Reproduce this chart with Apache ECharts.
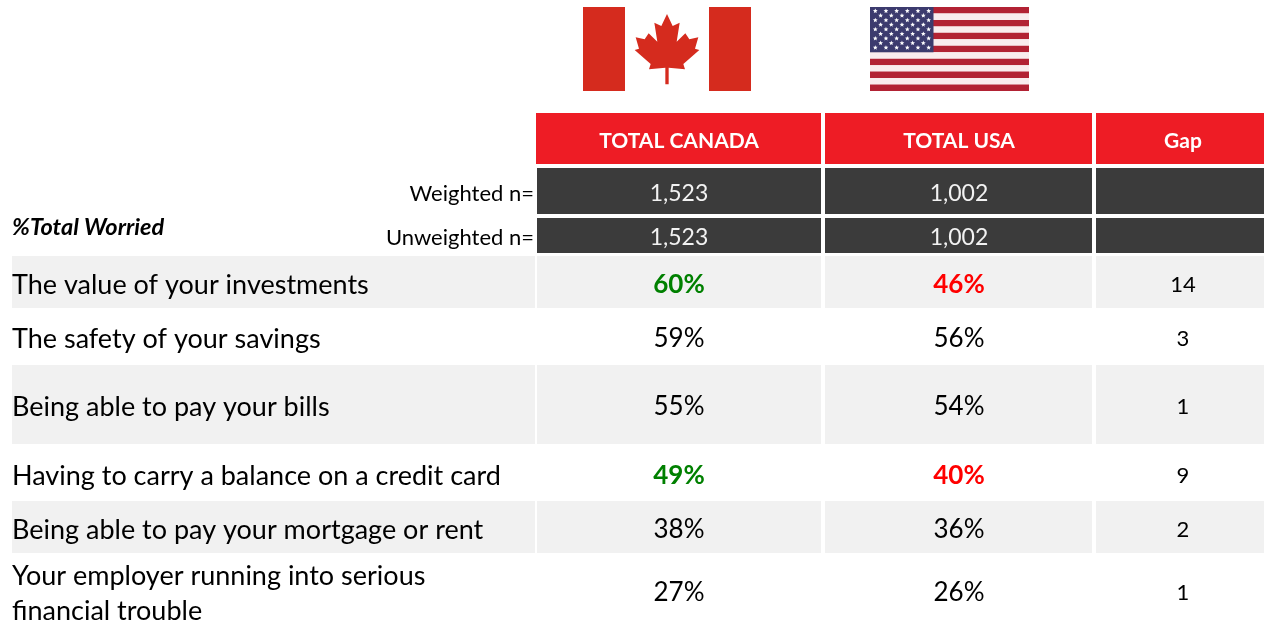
<!DOCTYPE html>
<html>
<head>
<meta charset="utf-8">
<style>
  html, body { margin: 0; padding: 0; background: #fff; }
  #main { width: 1264px; height: 620px; }
</style>
<script src="https://cdn.jsdelivr.net/npm/echarts@6/dist/echarts.min.js"></script>
</head>
<body>
<div id="main"></div>
<script>
// table content
var columnTitles = ['TOTAL CANADA', 'TOTAL USA', 'Gap'];
var weightedN = ['1,523', '1,002', ''];
var unweightedN = ['1,523', '1,002', ''];
var rowLabels = [
  'The value of your investments',
  'The safety of your savings',
  'Being able to pay your bills',
  'Having to carry a balance on a credit card',
  'Being able to pay your mortgage or rent',
  'Your employer running into serious\nfinancial trouble'
];
var canadaValues = [60, 59, 55, 49, 38, 27];
var usaValues = [46, 56, 54, 40, 36, 26];
var gapValues = [14, 3, 1, 9, 2, 1];
var significantRows = [0, 3];

var FONT = 'Lato, "Noto Sans", sans-serif';

// x / y band edges, in axis units (axes run 1:1 with the page)
var colBands = [[12, 535], [537, 821], [825, 1092], [1096, 1264]];
var colTextX = [12, 679, 959, 1183];
var rowBands = [
  [113, 164], [168, 214], [218, 253],
  [256, 308], [308, 365], [365, 444], [444, 501], [501, 553], [553, 620]
];
var rowTextY = [141, 194, 238, 285, 339, 407, 476, 530, 593];

// one entry per cell: col, row, text, kind
var cells = [];
columnTitles.forEach(function (t, c) { cells.push([c + 1, 0, t, 'head']); });
weightedN.forEach(function (t, c) { cells.push([c + 1, 1, t, 'n']); });
unweightedN.forEach(function (t, c) { cells.push([c + 1, 2, t, 'n']); });
rowLabels.forEach(function (label, i) {
  var r = i + 3;
  var sig = significantRows.indexOf(i) >= 0;
  cells.push([0, r, label, 'label']);
  cells.push([1, r, canadaValues[i] + '%', sig ? 'up' : 'pct']);
  cells.push([2, r, usaValues[i] + '%', sig ? 'down' : 'pct']);
  cells.push([3, r, String(gapValues[i]), 'gap']);
});

var kinds = {
  head: { fill: '#fff', font: 'bold 21px ' + FONT },
  n: { fill: '#f2f2f2', font: '23px ' + FONT },
  pct: { fill: '#000', font: '26px ' + FONT },
  up: { fill: '#008000', font: 'bold 26px ' + FONT },
  down: { fill: '#ff0000', font: 'bold 26px ' + FONT },
  gap: { fill: '#000', font: '22px ' + FONT },
  label: { fill: '#000', font: '27px ' + FONT }
};

function cellFill(row) {
  if (row === 0) return '#ee1c25';
  if (row < 3) return '#3b3b3b';
  return row % 2 === 1 ? '#f1f1f1' : '#fff';
}

function renderCell(params, api) {
  var c = api.value(0), r = api.value(1);
  var kind = cells[params.dataIndex][3];
  var text = cells[params.dataIndex][2];
  // the red header starts a pixel left of the cells under it
  var left = r === 0 && c === 1 ? colBands[c][0] - 1 : colBands[c][0];
  var tl = api.coord([left, rowBands[r][0]]);
  var br = api.coord([colBands[c][1], rowBands[r][1]]);
  var style = kinds[kind];
  var isLabel = kind === 'label';
  var tx = api.coord([colTextX[c], 0])[0];
  var ty = api.coord([0, rowTextY[r]])[1];
  var lines = text.split('\n');
  var children = [{
    type: 'rect',
    shape: { x: tl[0], y: tl[1], width: br[0] - tl[0], height: br[1] - tl[1] },
    style: { fill: cellFill(r) }
  }];
  lines.forEach(function (line, i) {
    children.push({
      type: 'text',
      style: {
        x: tx,
        y: lines.length > 1 ? tl[1] + 23 + i * 35 : ty,
        text: line,
        fill: style.fill,
        font: style.font,
        align: isLabel ? 'left' : 'center',
        verticalAlign: 'middle'
      }
    });
  });
  return { type: 'group', children: children };
}

// flags
function leafPoints() {
  var half = [[291, 42], [308, 78], [329, 68], [320, 125], [346, 100], [358, 118], [385, 112],
    [375, 146], [388, 150], [340, 192], [345, 208], [296, 203], [296, 253]];
  var pts = half.map(function (p) { return p; });
  for (var i = half.length - 1; i > 0; i--) pts.push([582 - half[i][0], half[i][1]]);
  return pts.map(function (p) { return [570 + p[0] / 3, p[1] / 3]; });
}

function starPoints(cx, cy, R) {
  var pts = [];
  for (var i = 0; i < 10; i++) {
    var rad = i % 2 ? R * 0.45 : R;
    var a = -Math.PI / 2 + i * Math.PI / 5;
    pts.push([cx + rad * Math.cos(a), cy + rad * Math.sin(a)]);
  }
  return pts;
}

function flagElements() {
  var els = [
    { type: 'rect', shape: { x: 583, y: 7, width: 42, height: 84 }, style: { fill: '#d52b1e' } },
    { type: 'rect', shape: { x: 709, y: 7, width: 42, height: 84 }, style: { fill: '#d52b1e' } },
    { type: 'polygon', shape: { points: leafPoints() }, style: { fill: '#d52b1e' } }
  ];
  var h = 84 / 13;
  for (var s = 0; s < 13; s++) {
    els.push({
      type: 'rect',
      shape: { x: 870, y: 7 + s * h, width: 159, height: h },
      style: { fill: s % 2 ? '#f9ecee' : '#b22234' }
    });
  }
  els.push({ type: 'rect', shape: { x: 870, y: 7, width: 63.5, height: 45.3 }, style: { fill: '#3c3b6e' } });
  for (var row = 0; row < 9; row++) {
    var n = row % 2 ? 5 : 6;
    for (var k = 0; k < n; k++) {
      var cx = 875.3 + (row % 2 ? 5.33 : 0) + k * 10.67;
      els.push({
        type: 'polygon',
        shape: { points: starPoints(cx, 11 + row * 4.58, 2.5) },
        style: { fill: '#fff' }
      });
    }
  }
  return els;
}

var side = [
  { type: 'text', x: 534, y: 194, style: { text: 'Weighted n=', fill: '#000', font: '22px ' + FONT, align: 'right', verticalAlign: 'middle' } },
  { type: 'text', x: 534, y: 238, style: { text: 'Unweighted n=', fill: '#000', font: '22px ' + FONT, align: 'right', verticalAlign: 'middle' } },
  { type: 'text', x: 12, y: 227, style: { text: '%Total Worried', fill: '#000', font: 'italic bold 23.5px ' + FONT, align: 'left', verticalAlign: 'middle' } }
];

var chart = echarts.init(document.getElementById('main'));
chart.setOption({
  backgroundColor: '#fff',
  animation: false,
  grid: { left: 0, right: 0, top: 0, bottom: 0 },
  xAxis: { type: 'value', min: 0, max: 1264, show: false },
  yAxis: { type: 'value', min: 0, max: 620, inverse: true, show: false },
  graphic: { elements: flagElements().concat(side) },
  series: [{
    type: 'custom',
    coordinateSystem: 'cartesian2d',
    renderItem: renderCell,
    silent: true,
    encode: { x: 0, y: 1 },
    data: cells.map(function (d) { return [d[0], d[1]]; })
  }]
});
</script>
</body>
</html>
